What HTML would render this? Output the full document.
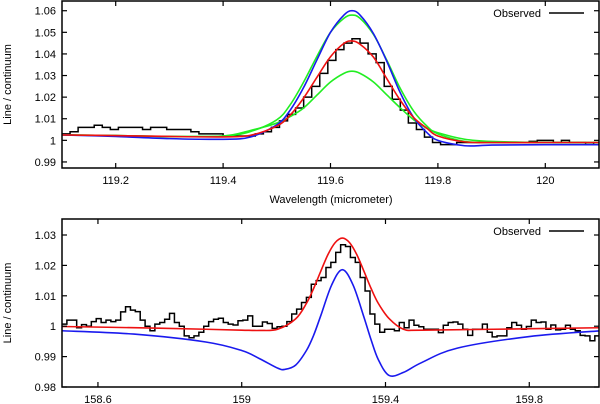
<!DOCTYPE html>
<html><head><meta charset="utf-8">
<style>
html,body{margin:0;padding:0;background:#fff;}
svg{display:block;font-family:"Liberation Sans",sans-serif;}
</style></head>
<body>
<svg id="chart" width="600" height="404" viewBox="0 0 600 404"></svg>
<script>
// ---------- Top panel data ----------
const topBinStart = 119.1;
const topBinWidth = 0.015;
const topObserved = [1.003,1.004,1.006,1.006,1.007,1.006,1.005,1.006,1.006,1.006,1.005,1.006,1.006,1.005,1.005,1.005,1.004,1.003,1.003,1.003,1.002,1.002,1.002,1.002,1.003,1.004,1.006,
1.009,1.012,1.015,1.020,1.025,1.031,1.037,1.042,1.045,1.047,1.045,1.040,1.036,1.025,1.019,1.014,1.008,1.005,1.0015,
0.999,0.998,0.998,0.999,0.999,0.999,0.999,0.999,0.999,0.999,0.999,0.999,0.9995,1.0,1.0,0.999,1.0,0.999,0.999,0.998,0.999];
const topModelX = [119.1,119.2,119.3,119.4,119.45,119.5,119.525,119.55,119.575,119.6,119.625,119.64,119.655,119.68,119.705,119.73,119.755,119.78,119.8,119.85,119.9,120.0,120.1];
const topRed =    [1.0025,1.0022,1.0018,1.0016,1.0023,1.0066,1.0117,1.0196,1.0293,1.0387,1.0449,1.046,1.0445,1.0385,1.0285,1.0185,1.0105,1.0055,1.002,0.9993,0.999,0.999,0.999];
const topBlue =   [1.0025,1.0018,1.0008,1.0005,1.0015,1.0072,1.014,1.0245,1.0374,1.05,1.058,1.060,1.058,1.0494,1.0365,1.022,1.0105,1.0035,1.0,0.9975,0.9978,0.998,0.998];
const topGreenHi= [1.0025,1.0022,1.0018,1.002,1.004,1.0095,1.0165,1.027,1.039,1.05,1.0565,1.058,1.0565,1.049,1.037,1.024,1.0135,1.0065,1.003,0.9995,0.999,0.999,0.999];
const topGreenLo= [1.0025,1.0022,1.0018,1.002,1.0045,1.008,1.011,1.015,1.021,1.027,1.031,1.032,1.031,1.027,1.021,1.015,1.0095,1.0055,1.0035,1.0005,0.9995,0.999,0.999];
const topXTicks = [119.2,119.4,119.6,119.8,120];
const topXTickLabels = ["119.2","119.4","119.6","119.8","120"];
const topYTicks = [0.99,1,1.01,1.02,1.03,1.04,1.05,1.06];
const topYTickLabels = ["0.99","1","1.01","1.02","1.03","1.04","1.05","1.06"];

// ---------- Bottom panel data ----------
const botBinStart = 158.5;
const botBinWidth = 0.0136;
const botObserved = [1.0007,1.002,1.002,0.9995,1.0005,1.0,1.0015,1.0025,1.0012,1.002,1.0015,1.002,1.0047,1.0064,1.0053,1.0048,1.002,1.0,0.9985,1.0007,1.0012,1.0023,1.0042,1.0012,1.0,0.9968,0.9962,0.9968,0.998,1.0,1.0015,1.0023,1.0026,1.0012,1.0007,1.0004,1.0018,1.002,1.0034,1.0,
1.0,1.0014,1.0009,0.9993,0.9998,1.0,1.0015,1.004,1.0056,1.0078,1.0095,1.0138,1.015,1.016,1.0193,1.021,1.0243,1.0268,1.0262,1.0226,1.021,1.016,1.0116,1.004,1.0007,0.998,0.999,0.999,0.9985,
1.0012,0.9995,1.002,1.0003,0.9998,0.999,0.999,0.999,0.9979,1.0003,1.0012,1.0014,1.0007,0.999,0.997,0.999,0.999,1.0007,0.998,0.9965,0.9968,0.9968,0.9995,1.0012,1.0003,0.999,0.9999,1.002,1.0012,1.0014,0.999,1.0004,0.9988,0.999,1.0003,0.999,0.9985,0.997,0.9968,0.9952,0.9968];
const botRedX = [158.5,158.7,158.9,159.0,159.05,159.1,159.15,159.18,159.2,159.22,159.24,159.26,159.28,159.3,159.32,159.34,159.36,159.38,159.41,159.45,159.5,159.7,160];
const botRed =  [0.9999,0.9995,0.999,0.9987,0.9986,0.999,1.0024,1.0075,1.0124,1.0181,1.0236,1.0275,1.029,1.0275,1.0236,1.0181,1.0124,1.0075,1.0025,0.999,0.9987,0.999,0.9995];
const botBlueX = [158.5,158.7,158.9,159.0,159.05,159.1,159.12,159.15,159.18,159.2,159.22,159.25,159.28,159.31,159.34,159.36,159.38,159.41,159.45,159.5,159.6,159.8,160];
const botBlue =  [0.9985,0.9974,0.9948,0.992,0.9893,0.9862,0.9858,0.9872,0.992,0.997,1.0035,1.0135,1.0186,1.0135,1.003,0.9955,0.989,0.9838,0.9848,0.988,0.9928,0.9966,0.9985];
const botXTicks = [158.6,159,159.4,159.8];
const botXTickLabels = ["158.6","159","159.4","159.8"];
const botYTicks = [0.98,0.99,1,1.01,1.02,1.03];
const botYTickLabels = ["0.98","0.99","1","1.01","1.02","1.03"];

const NS = "http://www.w3.org/2000/svg";
const svg = document.getElementById('chart');
function mk(tag, attrs, parent){
  const e = document.createElementNS(NS, tag);
  for (const k in attrs) e.setAttribute(k, attrs[k]);
  (parent||svg).appendChild(e);
  return e;
}
function smoothPath(pts){
  let d = "M"+pts[0][0].toFixed(2)+","+pts[0][1].toFixed(2);
  for (let i=0;i<pts.length-1;i++){
    const p0=pts[Math.max(0,i-1)], p1=pts[i], p2=pts[i+1], p3=pts[Math.min(pts.length-1,i+2)];
    const c1x=p1[0]+(p2[0]-p0[0])/6, c1y=p1[1]+(p2[1]-p0[1])/6;
    const c2x=p2[0]-(p3[0]-p1[0])/6, c2y=p2[1]-(p3[1]-p1[1])/6;
    d += " C"+c1x.toFixed(2)+","+c1y.toFixed(2)+" "+c2x.toFixed(2)+","+c2y.toFixed(2)+" "+p2[0].toFixed(2)+","+p2[1].toFixed(2);
  }
  return d;
}

function panel(cfg){
  const g = mk('g', {});
  
  
  const L=cfg.left, R=cfg.right, T=cfg.top, B=cfg.bottom;
  const sx = v => L + (v - cfg.xmin)/(cfg.xmax - cfg.xmin)*(R-L);
  const sy = v => B - (v - cfg.ymin)/(cfg.ymax - cfg.ymin)*(B-T);
  const clip = mk('clipPath', {id: cfg.name+'-clip'}, g);
  mk('rect', {x:L, y:T, width:R-L, height:B-T}, clip);
  const plot = mk('g', {'clip-path':'url(#'+cfg.name+'-clip)'}, g);
  
  

  // observed histogram
  let d = "";
  let prevY = null;
  cfg.obs.forEach((v,i)=>{
    const x0 = sx(cfg.binStart + i*cfg.binWidth), x1 = sx(cfg.binStart + (i+1)*cfg.binWidth), y = sy(v);
    if (i===0) d += "M"+x0.toFixed(2)+","+y.toFixed(2);
    else d += " L"+x0.toFixed(2)+","+y.toFixed(2);
    d += " L"+x1.toFixed(2)+","+y.toFixed(2);
  });
  const hist = mk('path', {d:d, fill:'none', stroke:'#000', 'stroke-width':1.5}, plot);
  
  

  cfg.models.forEach(m=>{
    const pts = m.ys.map((v,i)=>[sx(m.xs[i]), sy(v)]);
    const p = mk('path', {d:smoothPath(pts), fill:'none', stroke:m.color, 'stroke-width':1.6}, plot);
    
    
  });

  // frame
  const fr = mk('rect', {x:L, y:T, width:R-L, height:B-T, fill:'none', stroke:'#000', 'stroke-width':1.5}, g);
  
  

  cfg.xticks.forEach((v,i)=>{
    const x = sx(v);
    mk('line', {x1:x, y1:B, x2:x, y2:B-5, stroke:'#000', 'stroke-width':1.2}, g);
    mk('line', {x1:x, y1:T, x2:x, y2:T+5, stroke:'#000', 'stroke-width':1.2}, g);
    const t = mk('text', {x:x, y:B+16, 'text-anchor':'middle', 'font-size':11, fill:'#000'}, g);
    t.textContent = cfg.xlabels[i];
    
    
  });
  cfg.yticks.forEach((v,i)=>{
    const y = sy(v);
    mk('line', {x1:L, y1:y, x2:L+5, y2:y, stroke:'#000', 'stroke-width':1.2}, g);
    mk('line', {x1:R, y1:y, x2:R-5, y2:y, stroke:'#000', 'stroke-width':1.2}, g);
    const t = mk('text', {x:L-6, y:y+4, 'text-anchor':'end', 'font-size':11, fill:'#000'}, g);
    t.textContent = cfg.ylabels[i];
    
    
  });

  // y-axis title
  const yc = (T+B)/2;
  const yt = mk('text', {x:11, y:yc, transform:'rotate(-90 11 '+yc+')', 'text-anchor':'middle', 'font-size':11, fill:'#000'}, g);
  yt.textContent = 'Line / continuum';
  
  

  // legend
  const lg = mk('g', {}, g);
  
  
  const lt = mk('text', {x:541, y:T+16, 'text-anchor':'end', 'font-size':11, fill:'#000'}, lg);
  lt.textContent = 'Observed';
  mk('line', {x1:549, y1:T+12, x2:584, y2:T+12, stroke:'#000', 'stroke-width':1.5}, lg);
}

panel({name:'top-panel', left:62, right:599, top:1, bottom:168,
  xmin:119.1, xmax:120.1, ymin:0.9872, ymax:1.0645,
  binStart:topBinStart, binWidth:topBinWidth, obs:topObserved,
  models:[
    {name:'green-low-model', xs:topModelX, ys:topGreenLo, color:'#22ee22'},
    {name:'green-high-model', xs:topModelX, ys:topGreenHi, color:'#22ee22'},
    {name:'blue-model', xs:topModelX, ys:topBlue, color:'#1a1aee'},
    {name:'red-model', xs:topModelX, ys:topRed, color:'#ee1111'}
  ],
  xticks:topXTicks, xlabels:topXTickLabels, yticks:topYTicks, ylabels:topYTickLabels});

panel({name:'bottom-panel', left:62, right:599, top:219, bottom:387,
  xmin:158.5, xmax:159.994, ymin:0.98, ymax:1.03 + 16/3040,
  binStart:botBinStart, binWidth:botBinWidth, obs:botObserved,
  models:[
    {name:'blue-model', xs:botBlueX, ys:botBlue, color:'#1a1aee'},
    {name:'red-model', xs:botRedX, ys:botRed, color:'#ee1111'}
  ],
  xticks:botXTicks, xlabels:botXTickLabels, yticks:botYTicks, ylabels:botYTickLabels});

const xt = document.createElementNS(NS,'text');
xt.setAttribute('x', 331); xt.setAttribute('y', 203);
xt.setAttribute('text-anchor','middle'); xt.setAttribute('font-size', 11);
xt.textContent = 'Wavelength (micrometer)';


svg.appendChild(xt);
</script>
</body></html>
